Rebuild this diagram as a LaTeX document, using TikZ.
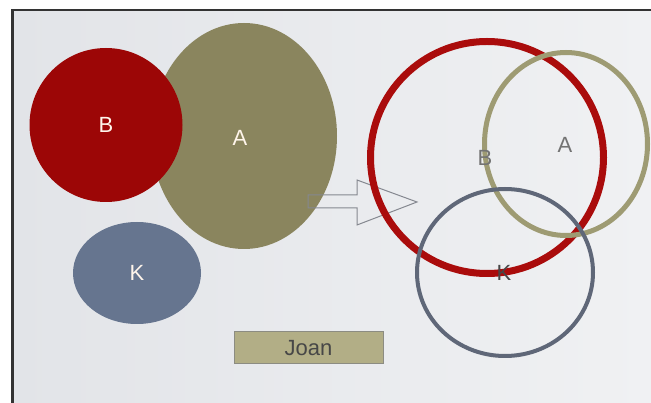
\documentclass[tikz,border=0pt]{standalone}
\usepackage{fontspec}
\setmainfont{Liberation Sans}
\usetikzlibrary{shapes.geometric}
\definecolor{bgl}{HTML}{E2E4E8}
\definecolor{bgr}{HTML}{F0F1F3}
\definecolor{bred}{HTML}{9C0606}
\definecolor{aolive}{HTML}{8A855E}
\definecolor{kslate}{HTML}{66758F}
\definecolor{ringred}{HTML}{AA0C0C}
\definecolor{ringolive}{HTML}{9E9B73}
\definecolor{ringgray}{HTML}{5F6778}
\definecolor{joanfill}{HTML}{B2AE86}
\definecolor{joanline}{HTML}{8C8C82}
\definecolor{arrowline}{HTML}{858890}
\tikzset{
  blob/.style={ellipse, inner sep=0pt, text=white!92!orange, font=\fontsize{22}{22}\selectfont},
  ring/.style={ellipse, inner sep=0pt, fill=none},
  lab/.style={font=\fontsize{22}{22}\selectfont},
}
\begin{document}
\begin{tikzpicture}[x=1pt,y=-1pt]
\useasboundingbox (0,0) rectangle (651,403);
\fill[white] (0,0) rectangle (651,403);
\shade[left color=bgl, right color=bgr] (12,10) rectangle (651,403);
\draw[black!80, line width=2.5pt] (12.5,403) -- (12.5,10) -- (651,10);
% left side
\node[blob, fill=aolive, minimum width=186pt, minimum height=226pt] (A) at (244,136) {};
\node[lab, text=white!92!orange] (Alab) at (240,138) {A};
\node[blob, fill=bred, minimum width=153pt, minimum height=154pt] (B) at (106,125) {B};
\node[blob, fill=kslate, minimum width=128pt, minimum height=102pt] (K) at (137,273) {K};
\node[lab, draw=joanline, fill=joanfill, line width=1pt, minimum width=149pt, minimum height=32pt, inner sep=0pt, text=black!72] (J) at (308.5,348) {Joan};
% arrow
\coordinate (t0) at (308,195);
\draw[arrowline, line width=1pt, line join=miter] (t0) -- (357,195) -- (357,180) -- (417,202) -- (357,225) -- (357,208) -- (308,208) -- cycle;
% right side
\node[ring, draw=ringred, line width=7pt, minimum width=233pt, minimum height=232pt] (RB) at (487,157.5) {};
\node[ring, draw=ringolive, line width=5pt, minimum width=163pt, minimum height=183pt] (RA) at (566,144) {};
\node[ring, draw=ringgray, line width=4pt, minimum width=176pt, minimum height=167pt] (RK) at (505,272.5) {};
\node[lab, text=black!55] (lB) at (485,158) {B};
\node[lab, text=black!55] (lA) at (565,145) {A};
\node[lab, text=black!72] (lK) at (504,273) {K};
\end{tikzpicture}
\end{document}
